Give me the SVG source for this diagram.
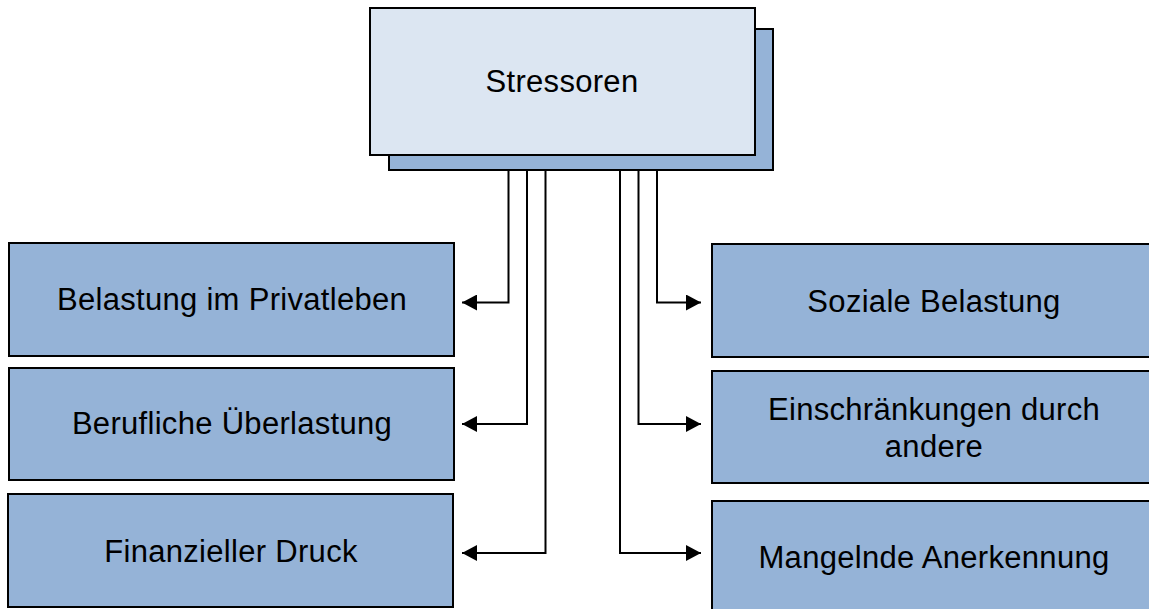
<svg xmlns="http://www.w3.org/2000/svg" width="1149" height="609" viewBox="0 0 1149 609">
<style>
.box{fill:#95B3D7;stroke:#000;stroke-width:2}
.main{fill:#DCE6F2;stroke:#000;stroke-width:2}
.t{font-family:"Liberation Sans",Arial,sans-serif;font-size:31px;letter-spacing:0.3px;fill:#000;text-anchor:middle}
.c{fill:none;stroke:#000;stroke-width:2}
</style>
<defs>
<marker id="ah" viewBox="0 0 15 16" refX="15" refY="8" markerWidth="15" markerHeight="16" markerUnits="userSpaceOnUse" orient="auto">
<path d="M0,0 L15,8 L0,16 Z" fill="#000"/>
</marker>
</defs>
<g id="n-stressoren">
<rect x="389" y="29" width="384" height="141" class="box"/>
<rect x="370" y="8" width="385" height="147" class="main"/>
<text x="562" y="92" class="t">Stressoren</text>
</g>
<g id="n-privat">
<rect x="9" y="243" width="445" height="113" class="box"/>
<text x="232" y="310" class="t">Belastung im Privatleben</text>
</g>
<g id="n-beruf">
<rect x="9" y="368" width="445" height="112" class="box"/>
<text x="232" y="434" class="t">Berufliche Überlastung</text>
</g>
<g id="n-finanz">
<rect x="8" y="494" width="445" height="113" class="box"/>
<text x="231" y="562" class="t">Finanzieller Druck</text>
</g>
<g id="n-sozial">
<rect x="712" y="244" width="445" height="113" class="box"/>
<text x="934" y="312" class="t">Soziale Belastung</text>
</g>
<g id="n-einschr">
<rect x="712" y="371" width="445" height="112" class="box"/>
<text x="934" y="420" class="t">Einschränkungen durch</text>
<text x="934" y="457" class="t">andere</text>
</g>
<g id="n-mangel">
<rect x="712" y="501" width="445" height="120" class="box"/>
<text x="934" y="568" class="t">Mangelnde Anerkennung</text>
</g>
<g id="connectors">
<polyline points="508.5,170 508.5,302.5 462,302.5" class="c" marker-end="url(#ah)"/>
<polyline points="527,170 527,424 462,424" class="c" marker-end="url(#ah)"/>
<polyline points="545.5,170 545.5,553 462,553" class="c" marker-end="url(#ah)"/>
<polyline points="657,170 657,302.5 701,302.5" class="c" marker-end="url(#ah)"/>
<polyline points="638.5,170 638.5,424 701,424" class="c" marker-end="url(#ah)"/>
<polyline points="620,170 620,553 701,553" class="c" marker-end="url(#ah)"/>
</g>
</svg>
